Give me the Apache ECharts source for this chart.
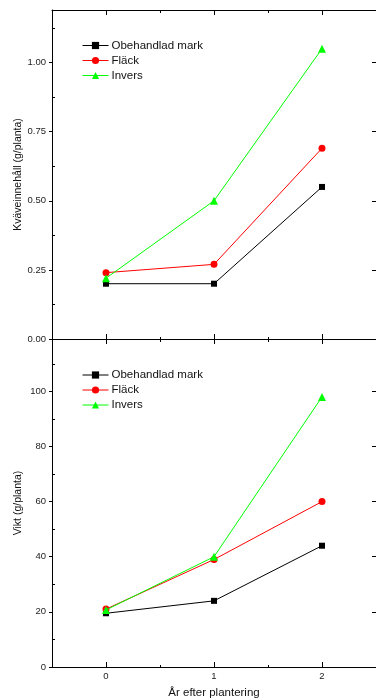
<!DOCTYPE html>
<html lang="sv">

<head>
    <meta charset="UTF-8">
    <title>Kväveinnehåll och vikt</title>
    <script src="https://cdn.jsdelivr.net/npm/echarts@6/dist/echarts.min.js"></script>
    <style>
        html, body { margin: 0; padding: 0; background: #fff; }
    </style>
</head>

<body>
    <div id="main" style="width: 376px;height:700px;"></div>
    <script>
        // data
        const years = [0, 1, 2];
        const seriesNames = ['Obehandlad mark', 'Fläck', 'Invers'];
        const kvObeh = [0.20, 0.20, 0.55];
        const kvFlack = [0.24, 0.27, 0.69];
        const kvInvers = [0.22, 0.50, 1.05];
        const viktObeh = [19.5, 24, 44];
        const viktFlack = [21, 39, 60];
        const viktInvers = [20.7, 40, 98];

        // ticks
        const xTicks = [0, 1, 2];
        const xMinor = [0.5, 1.5];
        const kvTicks = [0, 0.25, 0.5, 0.75, 1.0];
        const kvMinor = [0.125, 0.375, 0.625, 0.875, 1.125];
        const viktTicks = [0, 20, 40, 60, 80, 100];
        const viktMinor = [10, 30, 50, 70, 90, 110];

        const colors = ['#000000', '#ff0000', '#00ff00'];
        const symbols = ['rect', 'circle', 'triangle'];
        const sizes = [6, 7, 8];
        const font = 'Liberation Sans, Arial, sans-serif';
        const line = { show: true, onZero: false, lineStyle: { color: '#000', width: 1 } };
        const noLine = { show: false, onZero: false };

        function xAxes(grid, last) {
            let base = { type: 'value', gridIndex: grid, min: -0.5, max: 2.5, splitLine: { show: false } };
            return [
                Object.assign({}, base, {
                    position: 'bottom', axisLine: line,
                    axisTick: { inside: true, length: 5, customValues: xTicks, lineStyle: { color: '#000' } },
                    axisLabel: last ? { show: true, customValues: xTicks, margin: 4, fontSize: 9.5, color: '#222', fontFamily: font } : { show: false },
                    name: last ? 'År efter plantering' : '', nameLocation: 'middle', nameGap: 20,
                    nameTextStyle: { fontSize: 11.5, color: '#111', fontFamily: font }
                }),
                Object.assign({}, base, {
                    position: 'top', axisLine: line,
                    axisTick: { inside: true, length: 5, customValues: xTicks, lineStyle: { color: '#000' } },
                    axisLabel: { show: false }
                }),
                Object.assign({}, base, {
                    position: 'bottom', axisLine: noLine,
                    axisTick: { inside: true, length: 2, customValues: xMinor, lineStyle: { color: '#000' } },
                    axisLabel: { show: false }
                }),
                Object.assign({}, base, {
                    position: 'top', axisLine: noLine,
                    axisTick: { inside: true, length: 3, customValues: xMinor, lineStyle: { color: '#000' } },
                    axisLabel: { show: false }
                })
            ];
        }

        function yAxes(grid, max, ticks, minor, digits, title) {
            let base = { type: 'value', gridIndex: grid, min: 0, max: max, splitLine: { show: false } };
            return [
                Object.assign({}, base, {
                    position: 'left', axisLine: line,
                    axisTick: { inside: false, length: 3, customValues: ticks, lineStyle: { color: '#000' } },
                    axisLabel: {
                        customValues: ticks, margin: 6, fontSize: 9.5, color: '#222', fontFamily: font,
                        formatter: v => Number(v).toFixed(digits)
                    },
                    name: title, nameLocation: 'middle', nameGap: 28, nameMoveOverlap: false,
                    nameTextStyle: { fontSize: 10.5, color: '#111', fontFamily: font }
                }),
                Object.assign({}, base, {
                    position: 'left', axisLine: noLine,
                    axisTick: { inside: true, length: 3, customValues: minor, lineStyle: { color: '#000' } },
                    axisLabel: { show: false }
                }),
                Object.assign({}, base, {
                    position: 'right', axisLine: line,
                    axisTick: { inside: true, length: 4, customValues: ticks, lineStyle: { color: '#000' } },
                    axisLabel: { show: false }
                })
            ];
        }

        function makeSeries(values, i, grid) {
            return {
                name: seriesNames[i],
                type: 'line',
                xAxisIndex: grid * 4,
                yAxisIndex: grid * 3,
                data: years.map((x, k) => [x, values[k]]),
                symbol: symbols[i],
                symbolSize: sizes[i],
                showAllSymbol: true,
                itemStyle: { color: colors[i] },
                lineStyle: { color: colors[i], width: 1 },
                z: 3 + i,
                animation: false
            };
        }

        let myChart = echarts.init(document.getElementById('main'));

        let legendBase = {
            orient: 'vertical', left: 82, padding: 0, itemWidth: 26, itemHeight: 9, itemGap: 3,
            data: seriesNames,
            lineStyle: { width: 1 },
            textStyle: { fontSize: 11.5, color: '#111', fontFamily: font, padding: [0, 0, 0, -2] }
        };

        let option = {
            animation: false,
            grid: [
                { left: 52, top: 10, width: 327, height: 329 },
                { left: 52, top: 339, width: 327, height: 329 }
            ],
            legend: [
                Object.assign({}, legendBase, { top: 39.5 }),
                Object.assign({}, legendBase, { top: 369 })
            ],
            xAxis: xAxes(0, false).concat(xAxes(1, true)),
            yAxis: yAxes(0, 1.19, kvTicks, kvMinor, 2, 'Kväveinnehåll (g/planta)')
                .concat(yAxes(1, 119, viktTicks, viktMinor, 0, 'Vikt (g/planta)')),
            series: [
                makeSeries(kvObeh, 0, 0),
                makeSeries(kvFlack, 1, 0),
                makeSeries(kvInvers, 2, 0),
                makeSeries(viktObeh, 0, 1),
                makeSeries(viktFlack, 1, 1),
                makeSeries(viktInvers, 2, 1)
            ]
        };
        myChart.setOption(option);
    </script>
</body>

</html>
